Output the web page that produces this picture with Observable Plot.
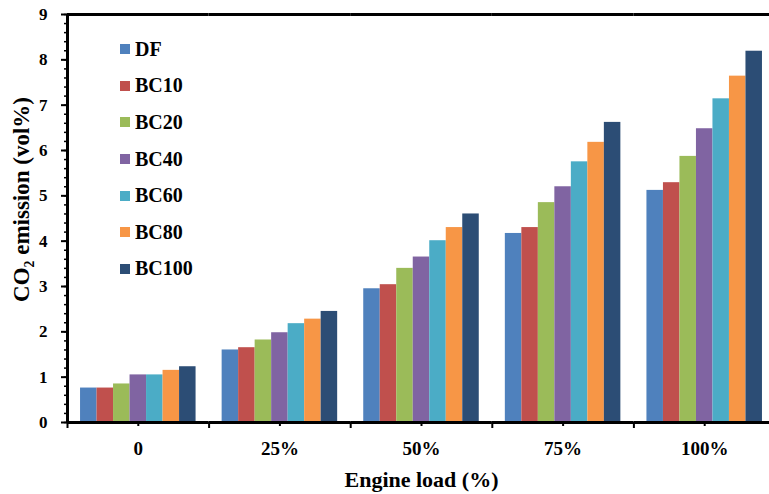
<!DOCTYPE html>
<html>
<head>
<meta charset="utf-8">
<script src="https://cdn.jsdelivr.net/npm/d3@7"></script>
<script src="https://cdn.jsdelivr.net/npm/@observablehq/plot@0.6"></script>
<style>
  html, body { margin: 0; padding: 0; background: #fff; overflow: hidden; }
  #wrap { position: relative; width: 769px; height: 494px; font-family: "Liberation Serif", "Times New Roman", serif; }
  #legend { position: absolute; left: 120px; top: 31px; }
  #legend .lg-swatches { font: bold 20px "Liberation Serif", "Times New Roman", serif !important; color: #000 !important; margin: 0 !important; min-height: 0 !important; columns: 1 !important; display: block !important; }
  #legend .lg-swatch { height: 36.6px !important; display: flex !important; align-items: center !important; margin: 0 !important; padding: 0 !important; }
  #legend .lg-swatch svg { margin-right: 5px !important; flex-shrink: 0; }
</style>
</head>
<body>
<div id="wrap"><div id="chart"></div><div id="legend"></div></div>
<script>
// ---- data ----
const loads = ["0", "25%", "50%", "75%", "100%"];
const series = ["DF", "BC10", "BC20", "BC40", "BC60", "BC80", "BC100"];
const DF    = [0.76, 1.60, 2.95, 4.17, 5.12];
const BC10  = [0.76, 1.65, 3.04, 4.30, 5.29];
const BC20  = [0.85, 1.82, 3.40, 4.85, 5.87];
const BC40  = [1.05, 1.98, 3.65, 5.20, 6.48];
const BC60  = [1.05, 2.18, 4.01, 5.75, 7.14];
const BC80  = [1.15, 2.28, 4.30, 6.18, 7.64];
const BC100 = [1.23, 2.45, 4.60, 6.62, 8.19];
const colors = ["#4F81BD", "#C0504D", "#9BBB59", "#8064A2", "#4BACC6", "#F79646", "#2C4D75"];
const yTicks = [0, 1, 2, 3, 4, 5, 6, 7, 8, 9];
const yMinorTicks = d3.range(0, 9.0001, 0.2);
const yTitle = "CO₂ emission (vol%)";
const xTitle = "Engine load (%)";

const bySeries = {DF, BC10, BC20, BC40, BC60, BC80, BC100};
const data = series.flatMap(s => loads.map((l, i) => ({load: l, series: s, value: bySeries[s][i]})));

// ---- layout ----
const W = 769, H = 494, ML = 67, MR = -6, MT = 14, MB = 72;
const PO = 0.79;
const step = (W - ML - MR) / loads.length;
const bw = step / (series.length + 2 * PO);
const edgeDx = -(PO + 0.5) * bw;
const font = "'Liberation Serif', 'Times New Roman', serif";

const chart = Plot.plot({
  width: W, height: H,
  marginLeft: ML, marginRight: MR, marginTop: MT, marginBottom: MB,
  style: {fontFamily: font, color: "#000", background: "#fff"},
  fx: {domain: loads, padding: 0, round: false, axis: null, label: null},
  x: {domain: series, paddingInner: 0, paddingOuter: PO, round: false, axis: null, label: null},
  y: {domain: [0, 9], axis: null, label: null},
  color: {domain: series, range: colors},
  marks: [
    Plot.barY(data, {fx: "load", x: "series", y: "value", fill: "series", inset: 0}),
    // x axis line & top border
    Plot.ruleY([0], {stroke: "#000", strokeWidth: 3}),
    Plot.ruleY([9], {stroke: "#000", strokeWidth: 3}),
    // y axis line (first facet, left edge)
    Plot.ruleX([loads[0]], {fx: d => d, x: () => series[0], y1: 0, y2: 9, dx: edgeDx, stroke: "#000", strokeWidth: 3}),
    // boundary ticks on x axis
    Plot.axisFx({anchor: "bottom", tickSize: 6, dx: -step / 2, tickFormat: () => "", strokeWidth: 2, label: null}),
    // center ticks + labels
    Plot.axisFx({anchor: "bottom", tickSize: 4, tickPadding: 15, strokeWidth: 2, fontSize: 19, fontWeight: "bold", label: null}),
    // x title
    Plot.axisFx({anchor: "bottom", ticks: [], label: xTitle, labelAnchor: "center", labelArrow: false, labelOffset: 64, fontSize: 22, fontWeight: "bold"}),
    // y axis
    Plot.axisY({ticks: yMinorTicks, tickSize: 3, tickFormat: () => "", strokeWidth: 1.5, label: null}),
    Plot.axisY({ticks: yTicks, tickSize: 6, tickPadding: 14, strokeWidth: 2, fontSize: 17, fontWeight: "bold", label: null}),
    // y title
    Plot.text([yTitle], {fx: () => loads[0], frameAnchor: "left", textAnchor: "middle", rotate: -90, dx: -46, dy: -19, lineAnchor: "middle", fontSize: 23, fontWeight: "bold", fill: "#000"})
  ]
});
document.getElementById("chart").appendChild(chart);

const leg = Plot.legend({
  color: {domain: series, range: colors},
  legend: "swatches",
  columns: 1,
  swatchSize: 10,
  className: "lg",
  style: {fontFamily: font, fontSize: "20px", fontWeight: "bold", color: "#000"}
});
document.getElementById("legend").appendChild(leg);
</script>
</body>
</html>
